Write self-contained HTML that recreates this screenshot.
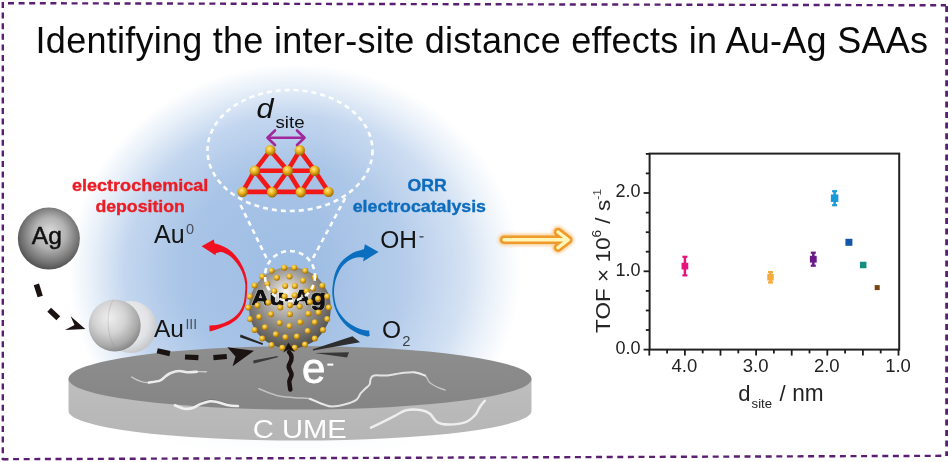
<!DOCTYPE html>
<html><head><meta charset="utf-8"><title>Au-Ag SAAs</title>
<style>html,body{margin:0;padding:0;background:#fff;width:948px;height:462px;overflow:hidden}svg{display:block}</style>
</head><body>
<svg width="948" height="462" viewBox="0 0 948 462">
<defs>
<radialGradient id="glow" cx="0.5" cy="0.5" r="0.5">
  <stop offset="0" stop-color="#9ebde3"/>
  <stop offset="0.5" stop-color="#a8c4e7"/>
  <stop offset="0.75" stop-color="#c3d6ef"/>
  <stop offset="0.9" stop-color="#e8f0f9"/>
  <stop offset="1" stop-color="#ffffff"/>
</radialGradient>
<linearGradient id="diskTop" x1="0" y1="0" x2="0" y2="1">
  <stop offset="0" stop-color="#8e8e8e"/>
  <stop offset="1" stop-color="#858585"/>
</linearGradient>
<linearGradient id="diskSide" x1="0" y1="0" x2="0" y2="1">
  <stop offset="0" stop-color="#bebebe"/>
  <stop offset="1" stop-color="#b5b5b5"/>
</linearGradient>
<radialGradient id="agBall" cx="0.52" cy="0.45" r="0.56" fx="0.52" fy="0.38">
  <stop offset="0" stop-color="#dadada"/>
  <stop offset="0.45" stop-color="#b2b2b2"/>
  <stop offset="0.82" stop-color="#727272"/>
  <stop offset="1" stop-color="#4e4e4e"/>
</radialGradient>
<radialGradient id="pairBall" cx="0.4" cy="0.35" r="0.68">
  <stop offset="0" stop-color="#efefef"/>
  <stop offset="0.45" stop-color="#d3d3d3"/>
  <stop offset="0.8" stop-color="#a9a9a9"/>
  <stop offset="1" stop-color="#858585"/>
</radialGradient>
<radialGradient id="backBall" cx="0.4" cy="0.4" r="0.62">
  <stop offset="0" stop-color="#f3f3f4"/>
  <stop offset="0.7" stop-color="#e2e3e6"/>
  <stop offset="1" stop-color="#c6c8cc"/>
</radialGradient>
<radialGradient id="npBall" cx="0.47" cy="0.4" r="0.62" fx="0.45" fy="0.3">
  <stop offset="0" stop-color="#f6f6f4"/>
  <stop offset="0.22" stop-color="#cdcac5"/>
  <stop offset="0.6" stop-color="#8e8b86"/>
  <stop offset="0.85" stop-color="#67645f"/>
  <stop offset="1" stop-color="#4a4844"/>
</radialGradient>
<radialGradient id="gold" cx="0.4" cy="0.35" r="0.65">
  <stop offset="0" stop-color="#ffe98a"/>
  <stop offset="0.5" stop-color="#e9b21e"/>
  <stop offset="1" stop-color="#9c6a05"/>
</radialGradient>
<filter id="blur2" x="-20%" y="-50%" width="140%" height="200%"><feGaussianBlur stdDeviation="1.5"/></filter>
<linearGradient id="fadeW" x1="0" y1="0" x2="0" y2="1">
  <stop offset="0" stop-color="#ffffff" stop-opacity="0"/>
  <stop offset="0.6" stop-color="#ffffff" stop-opacity="0.9"/>
  <stop offset="1" stop-color="#ffffff" stop-opacity="1"/>
</linearGradient>
<linearGradient id="lightR" x1="0" y1="0" x2="1" y2="0">
  <stop offset="0" stop-color="#ffffff" stop-opacity="0"/>
  <stop offset="0.6" stop-color="#ffffff" stop-opacity="0.25"/>
  <stop offset="1" stop-color="#ffffff" stop-opacity="0.4"/>
</linearGradient>
</defs>
<rect width="948" height="462" fill="#ffffff"/>
<ellipse cx="295" cy="272" rx="226" ry="208" fill="url(#glow)"/>
<rect x="320" y="60" width="220" height="380" fill="url(#lightR)"/>
<rect x="40" y="405" width="520" height="57" fill="url(#fadeW)"/>
<text x="35.6" y="52.6" font-family="'Liberation Sans', Arial, sans-serif" font-size="36" letter-spacing="0.26" fill="#0a0a0a">Identifying the inter-site distance effects in Au-Ag SAAs</text>
<path d="M68.5,379 L68.5,411 A231.5,29.6 0 0 0 531.5,411 L531.5,379 Z" fill="url(#diskSide)"/>
<path d="M68.5,379 A231.5,33 0 0 1 531.5,379 A231.5,30.5 0 0 1 68.5,379 Z" fill="url(#diskTop)"/>
<path fill="none" stroke="#f2f2f2" stroke-linecap="round" stroke-linejoin="round" stroke-width="1.4" opacity="0.6" d="M131.7,377.1 C133.2,377.8 137.8,380.4 140.6,381.3 C143.4,382.2 145.6,382.7 148.8,382.6 C152.0,382.5 158.0,380.9 159.8,380.6"/>
<path fill="none" stroke="#f2f2f2" stroke-linecap="round" stroke-linejoin="round" stroke-width="2.6" opacity="0.92" d="M148.8,382.6 C150.6,382.3 157.1,381.6 159.8,380.6 C162.6,379.6 163.5,377.8 165.3,376.5 C167.1,375.2 168.5,373.9 170.8,373.0 C173.1,372.1 176.0,371.1 179.0,371.0 C182.0,370.9 185.6,372.2 188.6,372.3 C191.6,372.4 195.4,371.8 196.8,371.7"/>
<path fill="none" stroke="#f2f2f2" stroke-linecap="round" stroke-linejoin="round" stroke-width="1.4" opacity="0.6" d="M188.6,372.3 C190.0,372.2 193.8,371.8 196.8,371.7 C199.8,371.6 204.8,371.7 206.4,371.7"/>
<path fill="none" stroke="#6e6e6e" stroke-width="1.2" opacity="0.6" d="M200.9,402.4 C202.5,401.9 207.5,399.9 210.5,399.7 C213.5,399.5 215.8,400.3 218.8,401.0 C221.8,401.7 226.8,403.3 228.4,403.8"/>
<path fill="none" stroke="#f2f2f2" stroke-linecap="round" stroke-linejoin="round" stroke-width="2.6" opacity="0.95" d="M174.9,405.3 C176.5,405.9 181.5,408.2 184.5,408.7 C187.5,409.1 190.0,408.8 192.7,408.0 C195.4,407.2 197.9,405.0 200.9,403.9 C203.9,402.8 207.5,401.4 210.5,401.2 C213.5,401.0 215.8,401.8 218.8,402.5 C221.8,403.2 225.2,404.7 228.4,405.3 C231.6,405.9 236.4,405.9 238.0,406.0"/>
<path fill="none" stroke="#f2f2f2" stroke-linecap="round" stroke-linejoin="round" stroke-width="1.5" opacity="0.55" d="M258.9,388.8 C261.8,389.9 270.7,393.9 276.6,395.4 C282.5,396.9 288.8,397.1 294.3,397.7 C299.8,398.3 305.0,397.7 309.8,398.8 C314.6,399.9 320.9,403.4 323.1,404.3"/>
<path fill="none" stroke="#f2f2f2" stroke-linecap="round" stroke-linejoin="round" stroke-width="2.0" opacity="0.85" d="M309.8,398.8 C312.0,399.7 319.4,403.0 323.1,404.3 C326.8,405.6 328.3,406.5 332.0,406.5 C335.7,406.5 341.2,405.4 345.3,404.3 C349.4,403.2 353.7,401.8 356.3,399.9 C358.9,398.0 359.3,395.0 360.8,393.2 C362.3,391.4 363.7,390.3 365.2,388.8 C366.7,387.3 368.7,386.1 369.6,384.4 C370.5,382.7 369.9,380.3 370.7,378.8 C371.4,377.3 371.3,376.1 374.1,375.5 C376.9,374.9 383.0,375.9 387.4,375.5 C391.8,375.1 396.2,373.9 400.6,373.3 C405.0,372.8 409.8,371.8 413.9,372.2 C418.0,372.6 423.1,374.9 425.0,375.5"/>
<path fill="none" stroke="#f2f2f2" stroke-linecap="round" stroke-linejoin="round" stroke-width="1.5" opacity="0.55" d="M413.9,372.2 C415.8,372.8 422.4,373.8 425.0,375.5 C427.6,377.2 427.2,380.2 429.4,382.2 C431.6,384.2 435.7,386.4 438.3,387.7 C440.9,389.0 443.9,389.5 445.0,389.9"/>
<path fill="none" stroke="#f2f2f2" stroke-linecap="round" stroke-linejoin="round" stroke-width="2.5" opacity="0.92" d="M371.0,427.6 C372.5,426.9 376.1,425.2 380.0,423.3 C383.9,421.4 389.9,418.4 394.3,416.2 C398.7,414.0 401.6,411.2 406.2,410.2 C410.8,409.2 417.7,409.6 421.7,410.2 C425.7,410.8 427.4,411.8 430.0,413.8 C432.6,415.8 433.9,420.3 437.1,422.1 C440.3,423.9 444.2,424.5 449.0,424.5 C453.8,424.5 461.3,423.7 465.7,422.1 C470.1,420.5 472.8,417.6 475.2,415.0 C477.6,412.4 478.4,409.1 480.0,406.7 C481.6,404.3 484.0,401.7 484.8,400.7"/>
<text x="252.8" y="438" font-family="'Liberation Sans', Arial, sans-serif" font-size="25" fill="#ffffff" textLength="94" lengthAdjust="spacingAndGlyphs">C UME</text>
<circle cx="48.85" cy="238.6" r="31" fill="url(#agBall)"/>
<text x="31.8" y="243.6" font-family="'Liberation Sans', Arial, sans-serif" font-size="24" fill="#111" stroke="#111" stroke-width="0.5" textLength="30" lengthAdjust="spacingAndGlyphs">Ag</text>
<g stroke="#1b1212" stroke-width="5.5"><line x1="36.4" y1="284.4" x2="40.2" y2="296.5"/><line x1="49.2" y1="309.7" x2="58.3" y2="318.2"/></g>
<path d="M85.3,329 L70.6,316.3 L74.5,325 L65,330 Z" fill="#1b1212"/>
<circle cx="130.7" cy="327" r="26" fill="url(#backBall)"/>
<circle cx="114.7" cy="325.5" r="26" fill="url(#pairBall)"/>
<path d="M113,300 C105,315 107,338 117,351" fill="none" stroke="#8a8a8a" stroke-opacity="0.35" stroke-width="0.8"/>
<g stroke="#1b1212" stroke-width="5.2"><line x1="157.2" y1="350.7" x2="169.9" y2="353.6"/><line x1="185" y1="357" x2="198.4" y2="357.6"/><line x1="213.4" y1="357.6" x2="226.8" y2="356.5"/></g>
<path d="M254,350.7 L227.4,347.2 L235.5,356.5 L232.6,366.3 Z" fill="#1b1212"/>
<path d="M214.7,243.8 C215.8,244.1 219.0,244.6 221.2,245.4 C223.4,246.2 225.7,247.4 227.7,248.7 C229.7,250.0 231.3,251.2 233.1,253.0 C234.9,254.8 237.0,257.3 238.5,259.5 C240.0,261.7 241.2,263.8 242.3,266.0 C243.4,268.2 244.3,270.3 245.0,272.5 C245.7,274.7 246.3,276.8 246.7,279.0 C247.1,281.2 247.1,283.4 247.2,285.5 C247.2,287.6 247.2,288.9 247.0,291.5 C246.8,294.1 246.7,298.1 246.1,301.2 C245.5,304.3 244.7,307.2 243.4,309.9 C242.1,312.6 240.6,315.2 238.5,317.5 C236.4,319.8 233.9,321.7 231.0,323.4 C228.1,325.1 224.4,326.4 221.2,327.7 C217.9,329.0 213.4,330.4 211.5,331.0 C209.6,331.6 209.9,331.2 209.6,331.2 L209.4,325.6 C211.0,325.4 215.9,325.3 219.1,324.5 C222.3,323.7 225.9,322.2 228.8,320.7 C231.7,319.2 234.3,317.3 236.4,315.3 C238.5,313.3 240.0,311.2 241.3,308.8 C242.6,306.4 243.4,303.7 244.0,301.2 C244.6,298.7 244.7,296.0 244.9,293.7 C245.1,291.4 245.4,289.5 245.4,287.6 C245.4,285.7 245.3,284.2 245.0,282.2 C244.7,280.2 244.1,277.9 243.4,275.7 C242.7,273.5 241.9,271.4 240.7,269.2 C239.5,267.0 237.8,264.6 236.4,262.7 C235.0,260.8 233.7,259.3 232.1,257.9 C230.5,256.5 228.4,255.1 226.6,254.1 C224.8,253.1 223.0,252.1 221.2,251.9 C219.4,251.7 216.7,252.8 215.8,253.0 Z" fill="#f01020"/>
<path d="M201.6,246.2 L213.7,239.6 L214.6,243.5 L217.2,243.9 L218,252.6 L215.9,253 L215.4,255.2 Z" fill="#f01020"/>
<path d="M363.7,249.5 C362.5,249.8 359.0,250.4 356.6,251.3 C354.2,252.2 351.6,253.5 349.4,254.9 C347.2,256.3 345.3,257.8 343.5,259.6 C341.7,261.4 340.1,263.3 338.7,265.6 C337.3,267.9 336.0,270.8 335.1,273.3 C334.2,275.8 333.8,278.1 333.4,280.5 C333.0,282.9 332.7,285.5 332.5,287.6 C332.3,289.7 332.2,291.2 332.3,293.0 C332.4,294.8 332.4,295.8 332.8,298.1 C333.2,300.4 333.6,303.9 334.5,306.7 C335.4,309.5 336.6,312.3 338.1,315.0 C339.6,317.7 341.4,320.3 343.5,322.7 C345.6,325.1 348.0,327.4 350.6,329.3 C353.2,331.2 356.2,332.8 359.0,334.0 C361.8,335.2 365.5,336.1 367.3,336.4 C369.1,336.7 369.3,335.9 369.7,335.8 L369.1,330.5 C368.2,330.4 366.0,330.5 363.7,329.9 C361.4,329.3 358.2,328.3 355.4,326.9 C352.6,325.5 349.4,323.5 347.0,321.5 C344.6,319.5 342.8,317.3 341.1,315.0 C339.4,312.7 338.0,310.5 336.9,307.9 C335.8,305.3 335.2,302.1 334.7,299.5 C334.2,296.9 334.0,294.4 334.0,292.0 C334.0,289.6 334.1,287.5 334.5,285.2 C334.9,282.9 335.5,280.5 336.3,278.1 C337.1,275.7 338.1,273.2 339.3,271.0 C340.5,268.8 341.8,266.8 343.5,265.0 C345.2,263.2 347.2,261.4 349.4,260.2 C351.6,259.0 354.2,258.1 356.6,257.6 C359.0,257.1 362.5,257.4 363.7,257.3 Z" fill="#0b6ebf"/>
<path d="M378.6,251.9 L364.9,244.2 L363.9,249.5 L361.8,249.8 L361.8,257.4 L363.9,257.3 L363.1,261.4 Z" fill="#0b6ebf"/>
<text x="72" y="191.1" font-family="'Liberation Sans', Arial, sans-serif" font-size="16.5" font-weight="700" fill="#ec1c24" stroke="#ec1c24" stroke-width="0.35" textLength="136.3" lengthAdjust="spacingAndGlyphs">electrochemical</text>
<text x="95.4" y="212.2" font-family="'Liberation Sans', Arial, sans-serif" font-size="16.5" font-weight="700" fill="#ec1c24" stroke="#ec1c24" stroke-width="0.35" textLength="89.5" lengthAdjust="spacingAndGlyphs">deposition</text>
<text x="407.5" y="191.1" font-family="'Liberation Sans', Arial, sans-serif" font-size="16.5" font-weight="700" fill="#0d6cbd" stroke="#0d6cbd" stroke-width="0.35" textLength="39.2" lengthAdjust="spacingAndGlyphs">ORR</text>
<text x="352.7" y="212.2" font-family="'Liberation Sans', Arial, sans-serif" font-size="16.5" font-weight="700" fill="#0d6cbd" stroke="#0d6cbd" stroke-width="0.35" textLength="133.3" lengthAdjust="spacingAndGlyphs">electrocatalysis</text>
<text x="154" y="243" font-family="'Liberation Sans', Arial, sans-serif" font-size="25" fill="#151515">Au<tspan font-size="14.5" dy="-9" dx="1.5" fill="#4a4f58">0</tspan></text>
<text x="154" y="337.1" font-family="'Liberation Sans', Arial, sans-serif" font-size="24.5" fill="#151515">Au<tspan font-size="14" dy="-8" dx="1.5" fill="#4a4f58">III</tspan></text>
<text x="380.3" y="248" font-family="'Liberation Sans', Arial, sans-serif" font-size="24.5" fill="#151515">OH</text>
<rect x="419.5" y="236" width="4" height="1.6" fill="#555a62"/>
<text x="382" y="337.8" font-family="'Liberation Sans', Arial, sans-serif" font-size="24.5" fill="#151515">O<tspan font-size="14.8" dy="8.3" dx="1.2" fill="#3a3f46">2</tspan></text>
<circle cx="289.9" cy="307.9" r="41" fill="url(#npBall)"/>
<text x="251.5" y="304.5" font-family="'Liberation Sans', Arial, sans-serif" font-size="22.5" font-weight="700" fill="#111" stroke="#ffffff" stroke-width="2.2" stroke-opacity="0.3" paint-order="stroke" textLength="74.5" lengthAdjust="spacingAndGlyphs">Au-Ag</text>
<text x="251.5" y="304.5" font-family="'Liberation Sans', Arial, sans-serif" font-size="22.5" font-weight="700" fill="#111" stroke="#111" stroke-width="0.7" textLength="74.5" lengthAdjust="spacingAndGlyphs">Au-Ag</text>
<circle cx="284.3" cy="267.7" r="3.0" fill="url(#gold)"/>
<circle cx="294.3" cy="267.7" r="3.0" fill="url(#gold)"/>
<circle cx="271.6" cy="270.8" r="3.0" fill="url(#gold)"/>
<circle cx="305.2" cy="270.8" r="3.0" fill="url(#gold)"/>
<circle cx="262.2" cy="276.6" r="3.0" fill="url(#gold)"/>
<circle cx="276.9" cy="277.7" r="3.0" fill="url(#gold)"/>
<circle cx="289.5" cy="276.6" r="3.0" fill="url(#gold)"/>
<circle cx="303.1" cy="280.6" r="3.0" fill="url(#gold)"/>
<circle cx="314.8" cy="277.2" r="3.0" fill="url(#gold)"/>
<circle cx="254.6" cy="285.5" r="3.0" fill="url(#gold)"/>
<circle cx="267.3" cy="284.1" r="3.0" fill="url(#gold)"/>
<circle cx="285.2" cy="286" r="3.0" fill="url(#gold)"/>
<circle cx="294.9" cy="286" r="3.0" fill="url(#gold)"/>
<circle cx="313" cy="288.4" r="3.0" fill="url(#gold)"/>
<circle cx="322.3" cy="285.7" r="3.0" fill="url(#gold)"/>
<circle cx="249.9" cy="296.6" r="3.0" fill="url(#gold)"/>
<circle cx="274.2" cy="291.2" r="3.0" fill="url(#gold)"/>
<circle cx="284.5" cy="296.6" r="3.0" fill="url(#gold)"/>
<circle cx="294.7" cy="295.5" r="3.0" fill="url(#gold)"/>
<circle cx="306.6" cy="291.2" r="3.0" fill="url(#gold)"/>
<circle cx="318" cy="298.8" r="3.0" fill="url(#gold)"/>
<circle cx="327.2" cy="296.6" r="3.0" fill="url(#gold)"/>
<circle cx="248.2" cy="307.6" r="3.0" fill="url(#gold)"/>
<circle cx="257.4" cy="305.5" r="3.0" fill="url(#gold)"/>
<circle cx="268.3" cy="302.6" r="3.0" fill="url(#gold)"/>
<circle cx="280.2" cy="307.6" r="3.0" fill="url(#gold)"/>
<circle cx="289.9" cy="305.3" r="3.0" fill="url(#gold)"/>
<circle cx="299.6" cy="306.6" r="3.0" fill="url(#gold)"/>
<circle cx="309.9" cy="302" r="3.0" fill="url(#gold)"/>
<circle cx="328.8" cy="307.6" r="3.0" fill="url(#gold)"/>
<circle cx="249.9" cy="319.1" r="3.0" fill="url(#gold)"/>
<circle cx="259.1" cy="316.9" r="3.0" fill="url(#gold)"/>
<circle cx="271" cy="314.2" r="3.0" fill="url(#gold)"/>
<circle cx="289.9" cy="314.2" r="3.0" fill="url(#gold)"/>
<circle cx="308.3" cy="313.7" r="3.0" fill="url(#gold)"/>
<circle cx="318.5" cy="312.6" r="3.0" fill="url(#gold)"/>
<circle cx="327.2" cy="319.1" r="3.0" fill="url(#gold)"/>
<circle cx="254.7" cy="329.9" r="3.0" fill="url(#gold)"/>
<circle cx="265" cy="327.2" r="3.0" fill="url(#gold)"/>
<circle cx="279.6" cy="322.9" r="3.0" fill="url(#gold)"/>
<circle cx="289.4" cy="326.1" r="3.0" fill="url(#gold)"/>
<circle cx="300.2" cy="322.3" r="3.0" fill="url(#gold)"/>
<circle cx="314.8" cy="322.3" r="3.0" fill="url(#gold)"/>
<circle cx="322.9" cy="329.9" r="3.0" fill="url(#gold)"/>
<circle cx="307.7" cy="331" r="3.0" fill="url(#gold)"/>
<circle cx="262.3" cy="338.5" r="3.0" fill="url(#gold)"/>
<circle cx="275.8" cy="334.2" r="3.0" fill="url(#gold)"/>
<circle cx="285.4" cy="337.2" r="3.0" fill="url(#gold)"/>
<circle cx="296.9" cy="336.4" r="3.0" fill="url(#gold)"/>
<circle cx="314.8" cy="338.5" r="3.0" fill="url(#gold)"/>
<circle cx="271.5" cy="345" r="3.0" fill="url(#gold)"/>
<circle cx="282.3" cy="347.7" r="3.0" fill="url(#gold)"/>
<circle cx="294.7" cy="347.7" r="3.0" fill="url(#gold)"/>
<circle cx="305" cy="344.5" r="3.0" fill="url(#gold)"/>
<circle cx="290" cy="276" r="25" fill="none" stroke="#ffffff" stroke-width="2.6" stroke-dasharray="5 4" opacity="0.95"/>
<line x1="266.5" y1="258" x2="239.5" y2="203" fill="none" stroke="#ffffff" stroke-width="2.6" stroke-dasharray="5 4" opacity="0.95"/>
<line x1="313" y1="258" x2="345.5" y2="197.6" fill="none" stroke="#ffffff" stroke-width="2.6" stroke-dasharray="5 4" opacity="0.95"/>
<ellipse cx="290" cy="150.5" rx="82.5" ry="60.5" fill="none" stroke="#ffffff" stroke-width="2.6" stroke-dasharray="5 4" opacity="0.95"/>
<line x1="254.8" y1="170.7" x2="314.7" y2="170.7" stroke="#f21818" stroke-width="4.6"/>
<line x1="242.6" y1="191.9" x2="328.5" y2="191.9" stroke="#f21818" stroke-width="4.6"/>
<line x1="270.3" y1="150.3" x2="254.8" y2="170.7" stroke="#f21818" stroke-width="4.6"/>
<line x1="270.3" y1="150.3" x2="287.7" y2="170.7" stroke="#f21818" stroke-width="4.6"/>
<line x1="299.8" y1="150.3" x2="287.7" y2="170.7" stroke="#f21818" stroke-width="4.6"/>
<line x1="299.8" y1="150.3" x2="314.7" y2="170.7" stroke="#f21818" stroke-width="4.6"/>
<line x1="254.8" y1="170.7" x2="242.6" y2="191.9" stroke="#f21818" stroke-width="4.6"/>
<line x1="254.8" y1="170.7" x2="272.1" y2="192.3" stroke="#f21818" stroke-width="4.6"/>
<line x1="287.7" y1="170.7" x2="272.1" y2="192.3" stroke="#f21818" stroke-width="4.6"/>
<line x1="287.7" y1="170.7" x2="300.8" y2="192.3" stroke="#f21818" stroke-width="4.6"/>
<line x1="314.7" y1="170.7" x2="300.8" y2="192.3" stroke="#f21818" stroke-width="4.6"/>
<line x1="314.7" y1="170.7" x2="328.5" y2="191.9" stroke="#f21818" stroke-width="4.6"/>
<circle cx="270.3" cy="150.3" r="5.2" fill="url(#gold)"/>
<circle cx="299.8" cy="150.3" r="5.2" fill="url(#gold)"/>
<circle cx="254.8" cy="170.7" r="5.2" fill="url(#gold)"/>
<circle cx="287.7" cy="170.7" r="5.2" fill="url(#gold)"/>
<circle cx="314.7" cy="170.7" r="5.2" fill="url(#gold)"/>
<circle cx="242.6" cy="191.9" r="5.2" fill="url(#gold)"/>
<circle cx="272.1" cy="192.3" r="5.2" fill="url(#gold)"/>
<circle cx="300.8" cy="192.3" r="5.2" fill="url(#gold)"/>
<circle cx="328.5" cy="191.9" r="5.2" fill="url(#gold)"/>
<g stroke="#a0289c" stroke-width="2.6" fill="none" stroke-linecap="round" stroke-linejoin="round"><line x1="268" y1="137.7" x2="304" y2="137.7"/><polyline points="275,130.5 267.5,137.7 275,145"/><polyline points="297,130.5 304.5,137.7 297,145"/></g>
<text x="256.6" y="118.3" font-family="'Liberation Sans', Arial, sans-serif" font-size="27" font-style="italic" fill="#111" textLength="17" lengthAdjust="spacingAndGlyphs">d</text>
<text x="275.5" y="128" font-family="'Liberation Sans', Arial, sans-serif" font-size="17" fill="#111" textLength="29" lengthAdjust="spacingAndGlyphs">site</text>
<path d="M240.6,334.6 L263,343.3 L262.6,345 L240,337.2 Z" fill="#262626"/>
<path d="M253.2,360.5 L277.6,356 L277.8,357.2 L253.6,363.6 Z" fill="#3a3a3a"/>
<path d="M312.7,349.3 L352.5,336.3 L360,342.3 L313.2,350.6 Z" fill="#2e2e2e"/>
<path d="M314.6,353 L349,352.3 L347,357.6 Z" fill="#383838"/>
<path d="M289,352 C293,356 292,360 289.5,364 C286.5,368 292,371 291.5,375 C291,379 288,380 289.5,384 L290.3,389.5" fill="none" stroke="#1b1212" stroke-width="4.5" stroke-linecap="round"/>
<path d="M288.4,342.8 L295,352 L288.5,349.5 L283.2,352.5 Z" fill="#1b1212"/>
<text x="302" y="383.4" font-family="'Liberation Sans', Arial, sans-serif" font-size="42" fill="#ffffff" stroke="#ffffff" stroke-width="0.8">e</text>
<rect x="327.3" y="363.6" width="6" height="2" fill="#ffffff"/>
<g fill="none" stroke-linecap="round" stroke-linejoin="round"><path d="M504,239.8 L566,239.8 M558,232 L568.2,239.8 L558,247.6" stroke="#f5a540" stroke-width="12" opacity="0.5" filter="url(#blur2)"/><path d="M504,239.8 L566,239.8 M558,232 L568.2,239.8 L558,247.6" stroke="#ef9a2a" stroke-width="8.6"/><path d="M504,239.8 L566,239.8 M558,232 L568.2,239.8 L558,247.6" stroke="#fff6b8" stroke-width="3.4"/></g>
<rect x="649.6" y="153.6" width="249.6" height="196.0" fill="none" stroke="#222" stroke-width="2"/>
<line x1="649.3" y1="349.6" x2="649.3" y2="355.6" stroke="#1c1c1c" stroke-width="1.8"/>
<line x1="667.1" y1="349.6" x2="667.1" y2="353.4" stroke="#1c1c1c" stroke-width="1.8"/>
<line x1="684.9" y1="349.6" x2="684.9" y2="355.6" stroke="#1c1c1c" stroke-width="1.8"/>
<line x1="702.7" y1="349.6" x2="702.7" y2="353.4" stroke="#1c1c1c" stroke-width="1.8"/>
<line x1="720.5" y1="349.6" x2="720.5" y2="355.6" stroke="#1c1c1c" stroke-width="1.8"/>
<line x1="738.3" y1="349.6" x2="738.3" y2="353.4" stroke="#1c1c1c" stroke-width="1.8"/>
<line x1="756.1" y1="349.6" x2="756.1" y2="355.6" stroke="#1c1c1c" stroke-width="1.8"/>
<line x1="773.9" y1="349.6" x2="773.9" y2="353.4" stroke="#1c1c1c" stroke-width="1.8"/>
<line x1="791.7" y1="349.6" x2="791.7" y2="355.6" stroke="#1c1c1c" stroke-width="1.8"/>
<line x1="809.5" y1="349.6" x2="809.5" y2="353.4" stroke="#1c1c1c" stroke-width="1.8"/>
<line x1="827.3" y1="349.6" x2="827.3" y2="355.6" stroke="#1c1c1c" stroke-width="1.8"/>
<line x1="845.1" y1="349.6" x2="845.1" y2="353.4" stroke="#1c1c1c" stroke-width="1.8"/>
<line x1="862.9" y1="349.6" x2="862.9" y2="355.6" stroke="#1c1c1c" stroke-width="1.8"/>
<line x1="880.7" y1="349.6" x2="880.7" y2="353.4" stroke="#1c1c1c" stroke-width="1.8"/>
<line x1="898.5" y1="349.6" x2="898.5" y2="355.6" stroke="#1c1c1c" stroke-width="1.8"/>
<line x1="649.6" y1="349.6" x2="643.6" y2="349.6" stroke="#1c1c1c" stroke-width="1.8"/>
<line x1="649.6" y1="330.0" x2="645.8" y2="330.0" stroke="#1c1c1c" stroke-width="1.8"/>
<line x1="649.6" y1="310.5" x2="645.8" y2="310.5" stroke="#1c1c1c" stroke-width="1.8"/>
<line x1="649.6" y1="290.9" x2="645.8" y2="290.9" stroke="#1c1c1c" stroke-width="1.8"/>
<line x1="649.6" y1="271.3" x2="643.6" y2="271.3" stroke="#1c1c1c" stroke-width="1.8"/>
<line x1="649.6" y1="251.7" x2="645.8" y2="251.7" stroke="#1c1c1c" stroke-width="1.8"/>
<line x1="649.6" y1="232.2" x2="645.8" y2="232.2" stroke="#1c1c1c" stroke-width="1.8"/>
<line x1="649.6" y1="212.6" x2="645.8" y2="212.6" stroke="#1c1c1c" stroke-width="1.8"/>
<line x1="649.6" y1="193.0" x2="643.6" y2="193.0" stroke="#1c1c1c" stroke-width="1.8"/>
<line x1="649.6" y1="173.4" x2="645.8" y2="173.4" stroke="#1c1c1c" stroke-width="1.8"/>
<line x1="649.6" y1="153.9" x2="645.8" y2="153.9" stroke="#1c1c1c" stroke-width="1.8"/>
<text x="684.4" y="371.5" font-family="'Liberation Sans', Arial, sans-serif" font-size="18.5" fill="#222" text-anchor="middle">4.0</text>
<text x="755.6" y="371.5" font-family="'Liberation Sans', Arial, sans-serif" font-size="18.5" fill="#222" text-anchor="middle">3.0</text>
<text x="826.8" y="371.5" font-family="'Liberation Sans', Arial, sans-serif" font-size="18.5" fill="#222" text-anchor="middle">2.0</text>
<text x="898.0" y="371.5" font-family="'Liberation Sans', Arial, sans-serif" font-size="18.5" fill="#222" text-anchor="middle">1.0</text>
<text x="640.6" y="353.9" font-family="'Liberation Sans', Arial, sans-serif" font-size="18" fill="#222" text-anchor="end">0.0</text>
<text x="640.6" y="275.6" font-family="'Liberation Sans', Arial, sans-serif" font-size="18" fill="#222" text-anchor="end">1.0</text>
<text x="640.6" y="197.3" font-family="'Liberation Sans', Arial, sans-serif" font-size="18" fill="#222" text-anchor="end">2.0</text>
<text x="738.3" y="401" font-family="'Liberation Sans', Arial, sans-serif" font-size="22" fill="#222">d</text>
<text x="751.6" y="408.3" font-family="'Liberation Sans', Arial, sans-serif" font-size="13" fill="#222" textLength="20.5" lengthAdjust="spacingAndGlyphs">site</text>
<text x="779.5" y="401" font-family="'Liberation Sans', Arial, sans-serif" font-size="22" fill="#222">/</text>
<text x="792.2" y="401" font-family="'Liberation Sans', Arial, sans-serif" font-size="23.5" fill="#222" textLength="31.4" lengthAdjust="spacingAndGlyphs">nm</text>
<text transform="translate(609.5 261) rotate(-90) scale(1.1 1)" font-family="'Liberation Sans', Arial, sans-serif" font-size="20.5" fill="#262626" text-anchor="middle">TOF × 10<tspan font-size="12.5" dy="-8.5">6</tspan><tspan dy="8.5"> / s</tspan><tspan font-size="11" dy="-9" fill="#444">-1</tspan></text>
<line x1="684.9" y1="256.8" x2="684.9" y2="275.40000000000003" stroke="#e6137f" stroke-width="2.5"/>
<line x1="682.4" y1="256.8" x2="687.4" y2="256.8" stroke="#e6137f" stroke-width="2.2"/>
<line x1="682.4" y1="275.40000000000003" x2="687.4" y2="275.40000000000003" stroke="#e6137f" stroke-width="2.2"/>
<rect x="681.55" y="262.75" width="6.7" height="6.7" fill="#e6137f"/>
<line x1="770.5" y1="272.1" x2="770.5" y2="282.5" stroke="#f5aa3c" stroke-width="2.5"/>
<line x1="768.0" y1="272.1" x2="773.0" y2="272.1" stroke="#f5aa3c" stroke-width="2.2"/>
<line x1="768.0" y1="282.5" x2="773.0" y2="282.5" stroke="#f5aa3c" stroke-width="2.2"/>
<rect x="767.25" y="274.05" width="6.5" height="6.5" fill="#f5aa3c"/>
<line x1="813.3" y1="252.7" x2="813.3" y2="265.7" stroke="#6c1a8a" stroke-width="2.5"/>
<line x1="810.8" y1="252.7" x2="815.8" y2="252.7" stroke="#6c1a8a" stroke-width="2.2"/>
<line x1="810.8" y1="265.7" x2="815.8" y2="265.7" stroke="#6c1a8a" stroke-width="2.2"/>
<rect x="809.90" y="255.80" width="6.8" height="6.8" fill="#6c1a8a"/>
<line x1="834.6" y1="191.2" x2="834.6" y2="205.2" stroke="#1a9ad8" stroke-width="2.5"/>
<line x1="832.1" y1="191.2" x2="837.1" y2="191.2" stroke="#1a9ad8" stroke-width="2.2"/>
<line x1="832.1" y1="205.2" x2="837.1" y2="205.2" stroke="#1a9ad8" stroke-width="2.2"/>
<rect x="830.85" y="194.45" width="7.5" height="7.5" fill="#1a9ad8"/>
<rect x="845.40" y="238.80" width="7" height="7" fill="#1457a8"/>
<rect x="859.95" y="261.75" width="6.5" height="6.5" fill="#148c80"/>
<rect x="874.70" y="285.10" width="5" height="5" fill="#7a4310"/>
<line x1="8" y1="3.2" x2="946" y2="5.3" fill="none" stroke="#5a1f72" stroke-width="2.4" stroke-dasharray="6 4.6"/>
<line x1="2.8" y1="2" x2="2.8" y2="460" fill="none" stroke="#5a1f72" stroke-width="2.4" stroke-dasharray="6 4.6"/>
<line x1="946.6" y1="6" x2="946.6" y2="456" fill="none" stroke="#5a1f72" stroke-dasharray="6 4.6" stroke-width="2.8"/>
<line x1="2.5" y1="459.2" x2="946" y2="455.8" fill="none" stroke="#5a1f72" stroke-width="2.4" stroke-dasharray="6 4.6"/>
</svg>
</body></html>
